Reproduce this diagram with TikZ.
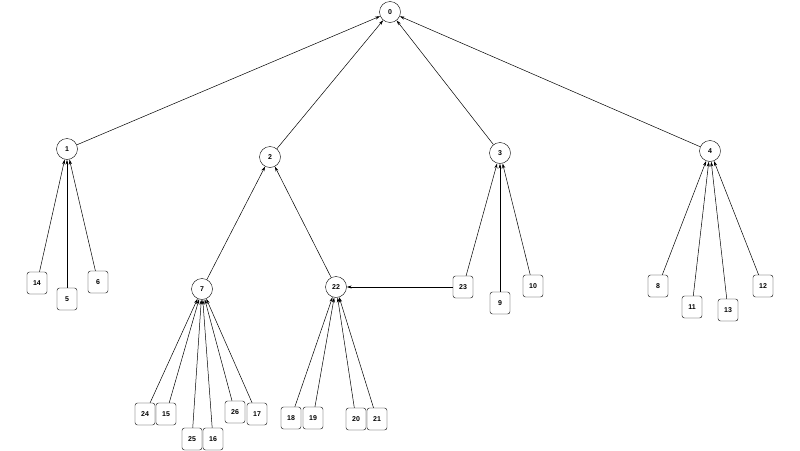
\documentclass[tikz,border=0pt]{standalone}
\usepackage{fontspec}
\setmainfont{Liberation Sans}
\usetikzlibrary{arrows.meta}
\begin{document}
\begin{tikzpicture}[x=1pt,y=-1pt,
  cnode/.style={circle,draw,minimum size=21pt,inner sep=0pt,font=\bfseries\fontsize{7}{8}\selectfont,fill=white},
  bnode/.style={rectangle,rounded corners=2.5pt,draw,minimum width=20pt,minimum height=22pt,inner sep=0pt,font=\bfseries\fontsize{7}{8}\selectfont,fill=white},
  edge/.style={draw,line width=0.5pt,-{Stealth[length=5pt,width=3pt]}}]
\useasboundingbox (0,0) rectangle (800,450);
\node[cnode] (n0) at (390,12) {0};
\node[cnode] (n1) at (67,149) {1};
\node[cnode] (n2) at (270,157) {2};
\node[cnode] (n3) at (500,153) {3};
\node[cnode] (n4) at (710,151) {4};
\node[cnode] (n7) at (202,289) {7};
\node[cnode] (n22) at (336,287) {22};
\node[bnode] (n14) at (37,283) {14};
\node[bnode] (n5) at (67,299) {5};
\node[bnode] (n6) at (98,282) {6};
\node[bnode] (n23) at (463,287) {23};
\node[bnode] (n9) at (500,303) {9};
\node[bnode] (n10) at (533,286) {10};
\node[bnode] (n8) at (658,286) {8};
\node[bnode] (n11) at (692,307) {11};
\node[bnode] (n13) at (728,310) {13};
\node[bnode] (n12) at (763,286) {12};
\node[bnode] (n24) at (145,414) {24};
\node[bnode] (n15) at (166,414) {15};
\node[bnode] (n25) at (192,439) {25};
\node[bnode] (n16) at (213,439) {16};
\node[bnode] (n26) at (235,412) {26};
\node[bnode] (n17) at (257,414) {17};
\node[bnode] (n18) at (291,418) {18};
\node[bnode] (n19) at (313,418) {19};
\node[bnode] (n20) at (356,419) {20};
\node[bnode] (n21) at (377,419) {21};
\foreach \a/\b in {n1/n0,n2/n0,n3/n0,n4/n0,n14/n1,n5/n1,n6/n1,n7/n2,n22/n2,
  n23/n3,n9/n3,n10/n3,n8/n4,n11/n4,n13/n4,n12/n4,n23/n22,
  n24/n7,n15/n7,n25/n7,n16/n7,n26/n7,n17/n7,n18/n22,n19/n22,n20/n22,n21/n22}
  \draw[edge] (\a) -- (\b);
\end{tikzpicture}
\end{document}
